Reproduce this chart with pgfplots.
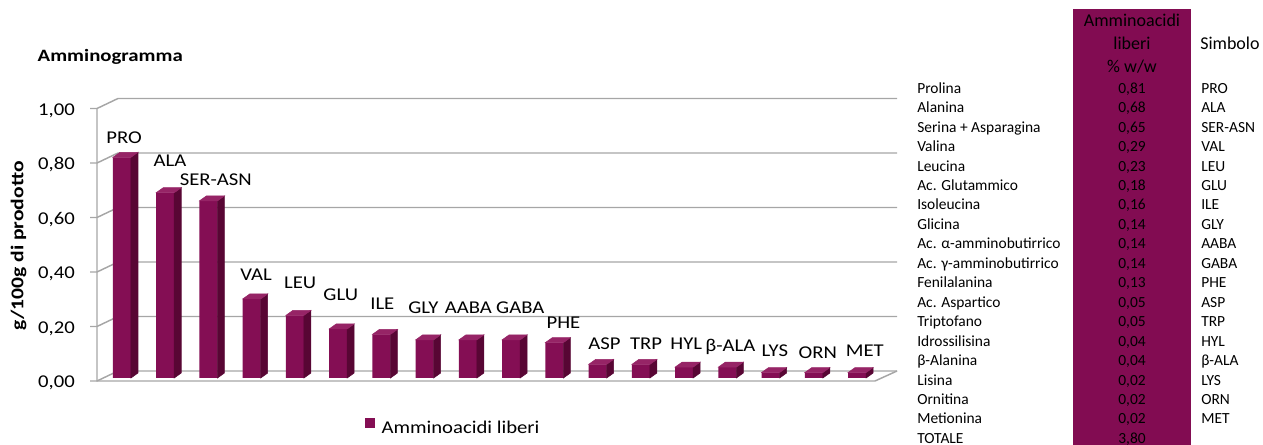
\documentclass[border=0pt]{standalone}
\usepackage{pgfplots}
\pgfplotsset{compat=1.18}
\usepackage{pgfplotstable}
\usepackage{fontspec}
\setmainfont{Carlito}
\newfontfamily\chartfam[FakeStretch=1.15]{Carlito}
\newfontfamily\boldfam[FakeStretch=1.2]{Carlito}
\newcommand\chartfont{\chartfam\fontsize{13.5}{16}\selectfont}
\newcommand\tablefont{\fontsize{11.6}{14}\selectfont}
\newcommand\headfont{\fontsize{13.5}{16}\selectfont}
\definecolor{barfront}{RGB}{132,14,84}
\definecolor{barside}{RGB}{88,6,52}
\definecolor{bartop}{RGB}{150,36,102}
\definecolor{tabpurple}{RGB}{130,12,82}
\definecolor{gridgray}{RGB}{166,166,166}

\pgfplotstableread{
x y
0 0.81
1 0.68
2 0.65
3 0.29
4 0.23
5 0.18
6 0.16
7 0.14
8 0.14
9 0.14
10 0.13
11 0.05
12 0.05
13 0.04
14 0.04
15 0.02
16 0.02
17 0.02
}\bars

\pgfplotstableread{
lx ly lab
0.05 0.870 PRO
1.11 0.786 ALA
2.17 0.717 SER-ASN
3.10 0.368 VAL
4.12 0.341 LEU
5.06 0.295 GLU
6.02 0.264 ILE
6.97 0.246 GLY
8.01 0.246 AABA
9.21 0.246 GABA
10.21 0.194 PHE
11.16 0.117 ASP
12.12 0.117 TRP
13.05 0.114 HYL
14.07 0.110 β-ALA
15.10 0.089 LYS
16.09 0.084 ORN
17.18 0.089 MET
}\labels

\begin{document}
\begin{tikzpicture}
\useasboundingbox (0,0) rectangle (947.25pt,333.75pt);
\clip (0,0) rectangle (947.25pt,333.75pt);

% 3D frame (background walls and floor)
\begin{scope}[shift={(0pt,333.75pt)}, x=0.75pt, y=-0.75pt, draw=gridgray, line width=1.1pt]
  \foreach \yf in {381,326.5,272,217.5,163,108.5}{
    \draw (90,\yf) -- (97,\yf) -- (118,\yf-10) -- (897,\yf-10);
  }
  \draw (97,108.5) -- (97,381) -- (875,381) -- (897,371);
  \node[anchor=base west, inner sep=0pt, font=\boldfam\bfseries\fontsize{13}{15}\selectfont] at (37,61.7) {Amminogramma};
  \node[rotate=90, inner sep=0pt, font=\boldfam\bfseries\fontsize{13.5}{16}\selectfont] at (18.5,246) {g/100g di prodotto};
\end{scope}

\begin{axis}[
  at={(72.75pt,48pt)}, anchor=south west,
  scale only axis, width=583.5pt, height=204.375pt,
  xmin=-0.578, xmax=17.414, ymin=0, ymax=1,
  clip=false,
  axis line style={draw=none},
  xtick=\empty,
  ytick={0,0.2,0.4,0.6,0.8,1},
  major tick style={draw=none},
  yticklabel style={font=\chartfont, inner sep=0pt, xshift=-16.5pt, yshift=-1.5pt},
  yticklabel={\pgfmathprintnumber[fixed,fixed zerofill,precision=2,use comma,assume math mode=true]{\tick}},
  legend style={at={(0.3445,-0.1725)}, anchor=west, draw=none, fill=none, font=\chartfont, inner sep=0pt},
  legend cell align=left,
]
\addplot[ybar, bar width=13.5pt, fill=barfront, draw=none, yshift=2.25pt,
  legend image code/.code={\fill[barfront] (0pt,-2.6pt) rectangle (7.5pt,5.1pt); \path (10.2pt,0pt);}]
  table[x=x,y=y]{\bars};
\addlegendentry{Amminoacidi liberi}

\addplot[only marks, mark=text, text mark={}, yshift=2.25pt, scatter, forget plot,
  visualization depends on={\thisrow{y} \as \bh},
  scatter/@pre marker code/.code={
    \pgfmathsetmacro\Hn{-\bh*204.375}
    \pgfmathsetmacro\Hb{\Hn+3.75}
    \fill[barside] (6.75pt,0pt) -- (12pt,3.75pt) -- (12pt,\Hb pt) -- (6.75pt,\Hn pt) -- cycle;
    \fill[bartop] (-6.75pt,0pt) -- (6.75pt,0pt) -- (12pt,3.75pt) -- (-1.5pt,3.75pt) -- cycle;
  },
  scatter/@post marker code/.code={}]
  table[x=x,y=y]{\bars};

\addplot[draw=none, mark=none, forget plot, nodes near coords, point meta=explicit symbolic,
  every node near coord/.append style={font=\chartfont, inner sep=0pt, text depth=0pt, anchor=base}]
  table[x=lx, y=ly, meta=lab]{\labels};
\end{axis}

% table on the right
\begin{scope}[shift={(0pt,333.75pt)}, x=0.75pt, y=-0.75pt, every node/.style={inner sep=0pt}]
  \fill[tabpurple] (1073,9) rectangle (1191,445);
  \node[anchor=base, font=\headfont] at (1132,26.7) {Amminoacidi};
  \node[anchor=base, font=\headfont] at (1132,50) {liberi};
  \node[anchor=base, font=\headfont] at (1132,73) {\% w/w};
  \node[anchor=base west, font=\headfont] at (1200,50) {Simbolo};
  \newcommand\trow[4]{%
    \node[anchor=base west, font=\tablefont] at (917,{93.3+19.45*#1}) {#2};
    \node[anchor=base, font=\tablefont] at (1132,{93.3+19.45*#1}) {#3};
    \node[anchor=base west, font=\tablefont] at (1201,{93.3+19.45*#1}) {#4};}
  \trow{0}{Prolina}{0,81}{PRO}
  \trow{1}{Alanina}{0,68}{ALA}
  \trow{2}{Serina + Asparagina}{0,65}{SER-ASN}
  \trow{3}{Valina}{0,29}{VAL}
  \trow{4}{Leucina}{0,23}{LEU}
  \trow{5}{Ac. Glutammico}{0,18}{GLU}
  \trow{6}{Isoleucina}{0,16}{ILE}
  \trow{7}{Glicina}{0,14}{GLY}
  \trow{8}{Ac. α-amminobutirrico}{0,14}{AABA}
  \trow{9}{Ac. γ-amminobutirrico}{0,14}{GABA}
  \trow{10}{Fenilalanina}{0,13}{PHE}
  \trow{11}{Ac. Aspartico}{0,05}{ASP}
  \trow{12}{Triptofano}{0,05}{TRP}
  \trow{13}{Idrossilisina}{0,04}{HYL}
  \trow{14}{β-Alanina}{0,04}{β-ALA}
  \trow{15}{Lisina}{0,02}{LYS}
  \trow{16}{Ornitina}{0,02}{ORN}
  \trow{17}{Metionina}{0,02}{MET}
  \trow{18}{TOTALE}{3,80}{}
\end{scope}
\end{tikzpicture}
\end{document}
